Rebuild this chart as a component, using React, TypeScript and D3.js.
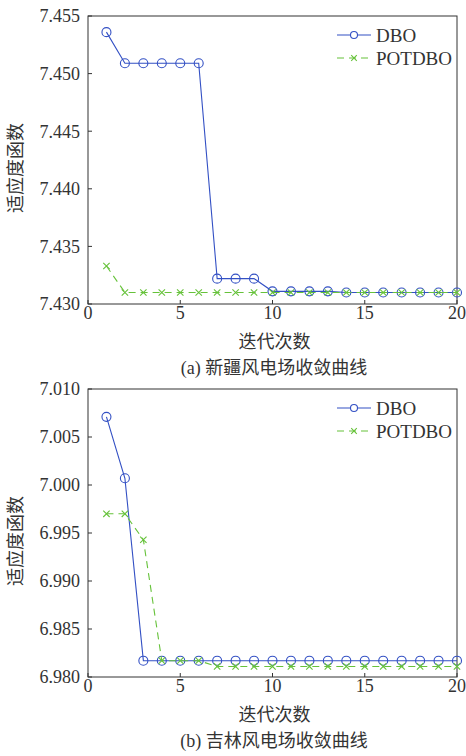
import React, { useEffect, useRef } from "react";
import * as d3 from "d3";

const iterations = [1, 2, 3, 4, 5, 6, 7, 8, 9, 10, 11, 12, 13, 14, 15, 16, 17, 18, 19, 20];

// (a) Xinjiang
const dboA = [7.4536, 7.4509, 7.4509, 7.4509, 7.4509, 7.4509, 7.4322, 7.4322, 7.4322, 7.4311, 7.4311, 7.4311, 7.4311, 7.431, 7.431, 7.431, 7.431, 7.431, 7.431, 7.431];
const potA = [7.4333, 7.431, 7.431, 7.431, 7.431, 7.431, 7.431, 7.431, 7.431, 7.431, 7.431, 7.431, 7.431, 7.431, 7.431, 7.431, 7.431, 7.431, 7.431, 7.431];
const yTicksA = [7.43, 7.435, 7.44, 7.445, 7.45, 7.455];

// (b) Jilin
const dboB = [7.0071, 7.0007, 6.9817, 6.9817, 6.9817, 6.9817, 6.9817, 6.9817, 6.9817, 6.9817, 6.9817, 6.9817, 6.9817, 6.9817, 6.9817, 6.9817, 6.9817, 6.9817, 6.9817, 6.9817];
const potB = [6.997, 6.997, 6.9943, 6.9817, 6.9817, 6.9817, 6.9811, 6.9811, 6.9811, 6.9811, 6.9811, 6.9811, 6.9811, 6.9811, 6.9811, 6.9811, 6.9811, 6.9811, 6.9811, 6.9811];
const yTicksB = [6.98, 6.985, 6.99, 6.995, 7.0, 7.005, 7.01];

const xTicks = [0, 5, 10, 15, 20];
const seriesNames = ["DBO", "POTDBO"];

const BLUE = "#3350c4";
const GREEN = "#66c23a";
const SERIF = "Liberation Serif, DejaVu Serif, serif";
const CJK = "Noto Sans CJK SC, sans-serif";

const W = 466,
  H = 756;

interface Panel {
  top: number;
  dbo: number[];
  pot: number[];
  ticks: number[];
  caption: string;
  capPrefix: string;
}

const panels: Panel[] = [
  { top: 16, dbo: dboA, pot: potA, ticks: yTicksA, capPrefix: "(a) ", caption: "新疆风电场收敛曲线" },
  { top: 389, dbo: dboB, pot: potB, ticks: yTicksB, capPrefix: "(b) ", caption: "吉林风电场收敛曲线" },
];

const left = 88,
  right = 457,
  plotH = 288;

export default function App(): JSX.Element {
  const ref = useRef<SVGSVGElement>(null);

  useEffect(() => {
    if (!ref.current) return;
    const svg = d3.select(ref.current);
    svg.selectAll("*").remove();

    panels.forEach((p) => {
      const x = d3.scaleLinear().domain([0, 20]).range([left, right]);
      const y = d3
        .scaleLinear()
        .domain([p.ticks[0], p.ticks[p.ticks.length - 1]])
        .range([p.top + plotH, p.top]);
      const g = svg.append("g");
      const bottom = p.top + plotH;

      // box
      g.append("rect")
        .attr("x", left)
        .attr("y", p.top)
        .attr("width", right - left)
        .attr("height", plotH)
        .attr("fill", "none")
        .attr("stroke", "#333")
        .attr("stroke-width", 1);

      // y ticks
      p.ticks.forEach((t) => {
        g.append("line")
          .attr("x1", left)
          .attr("x2", left + 4)
          .attr("y1", y(t))
          .attr("y2", y(t))
          .attr("stroke", "#333");
        g.append("text")
          .attr("x", left - 8)
          .attr("y", y(t))
          .attr("dy", "0.35em")
          .attr("text-anchor", "end")
          .style("font-family", SERIF)
          .attr("font-size", 18)
          .attr("fill", "#333")
          .text(t.toFixed(3));
      });

      // x ticks
      xTicks.forEach((t) => {
        g.append("line")
          .attr("x1", x(t))
          .attr("x2", x(t))
          .attr("y1", bottom)
          .attr("y2", bottom - 4)
          .attr("stroke", "#333");
        g.append("text")
          .attr("x", x(t))
          .attr("y", bottom + 9)
          .attr("dy", "0.35em")
          .attr("text-anchor", "middle")
          .style("font-family", SERIF)
          .attr("font-size", 18)
          .attr("fill", "#333")
          .text(t);
      });

      const lineOf = (vals: number[]) =>
        d3
          .line<number>()
          .x((_, i) => x(iterations[i]))
          .y((d) => y(d))(vals);

      // DBO
      g.append("path")
        .attr("d", lineOf(p.dbo) as string)
        .attr("fill", "none")
        .attr("stroke", BLUE)
        .attr("stroke-width", 1.1);
      p.dbo.forEach((v, i) => {
        g.append("circle")
          .attr("cx", x(iterations[i]))
          .attr("cy", y(v))
          .attr("r", 4.5)
          .attr("fill", "none")
          .attr("stroke", BLUE)
          .attr("stroke-width", 1.1);
      });

      // POTDBO
      g.append("path")
        .attr("d", lineOf(p.pot) as string)
        .attr("fill", "none")
        .attr("stroke", GREEN)
        .attr("stroke-width", 1.1)
        .attr("stroke-dasharray", "7 5");
      const cross = (cx: number, cy: number, s: number) =>
        `M${cx - s},${cy - s}L${cx + s},${cy + s}M${cx - s},${cy + s}L${cx + s},${cy - s}`;
      p.pot.forEach((v, i) => {
        g.append("path")
          .attr("d", cross(x(iterations[i]), y(v), 3.2))
          .attr("stroke", GREEN)
          .attr("stroke-width", 1.1);
      });

      // legend
      const ly = [p.top + 19, p.top + 42];
      ly.forEach((yy, k) => {
        const col = k === 0 ? BLUE : GREEN;
        g.append("line")
          .attr("x1", 337)
          .attr("x2", 371)
          .attr("y1", yy)
          .attr("y2", yy)
          .attr("stroke", col)
          .attr("stroke-width", 1.1)
          .attr("stroke-dasharray", k === 0 ? null : "7 5");
        if (k === 0) {
          g.append("circle").attr("cx", 354).attr("cy", yy).attr("r", 3.5).attr("fill", "#fff").attr("stroke", col).attr("stroke-width", 1.1);
        } else {
          g.append("path").attr("d", cross(354, yy, 2.8)).attr("stroke", col).attr("stroke-width", 1.1);
        }
        g.append("text")
          .attr("x", 376)
          .attr("y", yy)
          .attr("dy", "0.35em")
          .style("font-family", SERIF)
          .attr("font-size", 19)
          .attr("fill", "#333")
          .text(seriesNames[k]);
      });

      // y label
      const cy = p.top + plotH / 2 + 8;
      g.append("text")
        .attr("transform", `translate(16,${cy}) rotate(-90)`)
        .attr("dy", "0.35em")
        .attr("text-anchor", "middle")
        .style("font-family", CJK)
        .attr("font-size", 18)
        .attr("fill", "#333")
        .text("适应度函数");

      // x label
      g.append("text")
        .attr("x", (left + right) / 2 + 2)
        .attr("y", bottom + 38)
        .attr("dy", "0.35em")
        .attr("text-anchor", "middle")
        .style("font-family", CJK)
        .attr("font-size", 18)
        .attr("fill", "#333")
        .text("迭代次数");

      // caption
      const cap = g
        .append("text")
        .attr("x", 274)
        .attr("y", bottom + 64)
        .attr("dy", "0.35em")
        .attr("text-anchor", "middle")
        .attr("font-size", 18)
        .attr("fill", "#333");
      cap.append("tspan").style("font-family", SERIF).text(p.capPrefix);
      cap.append("tspan").style("font-family", CJK).text(p.caption);
    });
  }, []);

  return (
    <svg
      ref={ref}
      width={W}
      height={H}
      style={{ position: "absolute", left: 0, top: 0, background: "#fff" }}
    ></svg>
  );
}
